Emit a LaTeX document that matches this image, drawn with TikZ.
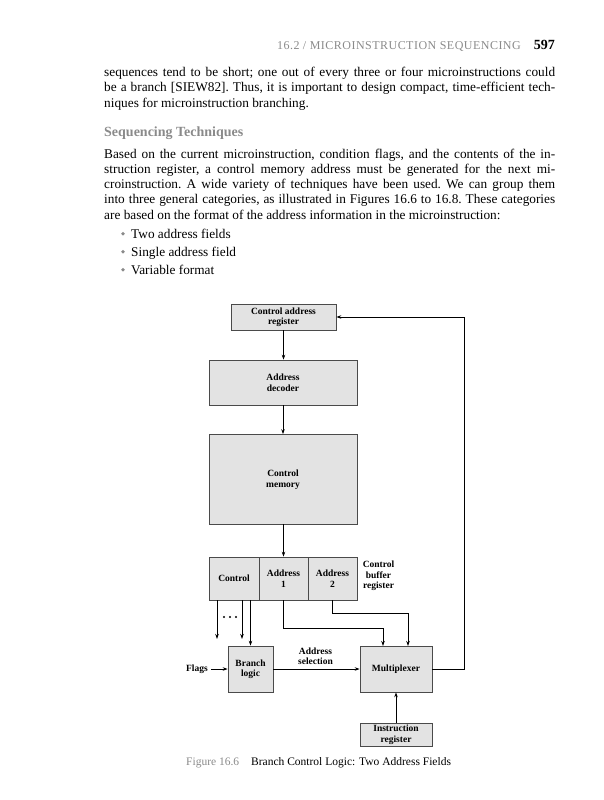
\documentclass[tikz,border=0pt]{standalone}
\usepackage{fontspec}
\setmainfont{Liberation Serif}
\usetikzlibrary{arrows.meta}
\definecolor{boxfill}{HTML}{E3E3E3}
\definecolor{boxline}{HTML}{4A4A4A}
\definecolor{headgray}{HTML}{8A8A8A}
\tikzset{
  blk/.style={draw=boxline, fill=boxfill, line width=0.7pt, inner sep=0pt, align=center,
     font=\fontsize{9.5}{10.5}\selectfont\bfseries},
  lbl/.style={inner sep=0pt, align=center, font=\fontsize{9.5}{10.5}\selectfont\bfseries},
  arr/.style={-{Stealth[length=5pt,width=3.5pt]}, line width=0.8pt},
  body/.style={anchor=base west, inner sep=0pt, font=\fontsize{13.3}{15.3}\selectfont\frenchspacing},
}
\newcommand{\jline}[1]{\makebox[451pt][s]{#1}}
\begin{document}
\begin{tikzpicture}[x=1pt,y=-1pt]
\useasboundingbox (0,0) rectangle (604,800);
% header
\node[anchor=base east, inner sep=0pt, text=headgray, font=\fontsize{12}{14}\selectfont\addfontfeatures{LetterSpace=4}] (hd) at (521,49) {16.2 / MICROINSTRUCTION SEQUENCING};
\node[anchor=base east, inner sep=0pt, font=\fontsize{14}{16}\selectfont\bfseries] (pg) at (555,49) {597};
% paragraph 1
\node[body] (p1a) at (104,76.5) {\jline{sequences tend to be short; one out of every three or four microinstructions could}};
\node[body] (p1b) at (104,91.8) {\jline{be a branch [SIEW82]. Thus, it is important to design compact, time-efficient tech-}};
\node[body] (p1c) at (104,107) {niques for microinstruction branching.};
% heading
\node[anchor=base west, inner sep=0pt, text=headgray, font=\fontsize{14}{16}\selectfont\bfseries] (hh) at (104,136) {Sequencing Techniques};
% paragraph 2
\node[body] (p2a) at (104,158) {\jline{Based on the current microinstruction, condition flags, and the contents of the in-}};
\node[body] (p2b) at (104,173.3) {\jline{struction register, a control memory address must be generated for the next mi-}};
\node[body] (p2c) at (104,188.6) {\jline{croinstruction. A wide variety of techniques have been used. We can group them}};
\node[body] (p2d) at (104,203.9) {\jline{into three general categories, as illustrated in Figures 16.6 to 16.8. These categories}};
\node[body] (p2e) at (104,219.2) {are based on the format of the address information in the microinstruction:};
% bullets
\foreach \yy/\tt [count=\i] in {238/Two address fields, 256/Single address field, 274/Variable format}{
  \fill[headgray] (123,\yy-4.2) circle (1.9);
  \node[body] (bl\i) at (131,\yy) {\tt};
}
% figure blocks
\node[blk, minimum width=105pt, minimum height=26pt] (car) at (283.5,317) {Control address\\register};
\node[blk, minimum width=148pt, minimum height=45pt] (dec) at (283,382.5) {Address\\decoder};
\node[blk, minimum width=148pt, minimum height=90pt] (mem) at (283,479.5) {Control\\memory};
\node[blk, minimum width=50pt, minimum height=43pt] (ctl) at (234,578.5) {Control};
\node[blk, minimum width=49pt, minimum height=43pt] (a1) at (283.5,578.5) {Address\\1};
\node[blk, minimum width=49pt, minimum height=43pt] (a2) at (332.5,578.5) {Address\\2};
\node[lbl] (cbr) at (378.5,576) {Control\\buffer\\register};
\node[blk, minimum width=45pt, minimum height=46pt] (br) at (250.5,669) {Branch\\logic};
\node[blk, minimum width=72pt, minimum height=46pt] (mux) at (396,669) {Multiplexer};
\node[blk, minimum width=72pt, minimum height=23pt] (ir) at (396,734.5) {Instruction\\register};
\node[lbl, anchor=east] (flags) at (208,669) {Flags};
\node[lbl] (asel) at (315.5,656) {Address\\selection};
% coordinates
\coordinate (c1) at (217,639);
\coordinate (c2) at (242,639);
\coordinate (m1) at (383,646);
\coordinate (m2) at (408,646);
\coordinate (fb) at (464,669);
% connectors
\draw[arr] (car.south) -- (car.south |- dec.north);
\draw[arr] (dec.south) -- (dec.south |- mem.north);
\draw[arr] (mem.south) -- (mem.south -| a1.north) -- (a1.north);
\draw[arr] (ctl.south -| c1) -- (c1);
\draw[arr] (ctl.south -| c2) -- (c2);
\draw[arr] (ctl.south -| br.north) -- (br.north);
\draw[arr] (a1.south) |- (383,628) -- (m1);
\draw[arr] (a2.south) |- (408,613) -- (m2);
\draw[arr] (flags.east) ++(3,0) -- (br.west);
\draw[arr] (br.east) -- (mux.west);
\draw[arr] (ir.north) -- (mux.south);
\draw[arr] (mux.east) -- (fb) |- (car.east);
% dots
\foreach \xx in {224,230,236} \fill (\xx,617) circle (1.1);
% caption
\node[anchor=base west, inner sep=0pt, text=headgray, font=\fontsize{11.5}{13}\selectfont] (fig) at (186,765) {Figure 16.6};
\node[anchor=base west, inner sep=0pt, font=\fontsize{11.5}{13}\selectfont] (cap) at (251,765) {Branch Control Logic: Two Address Fields};
\end{tikzpicture}
\end{document}
